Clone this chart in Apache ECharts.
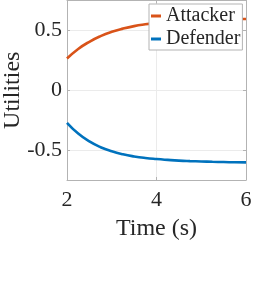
<!DOCTYPE html>
<html>
<head>
<meta charset="utf-8">
<script src="https://cdn.jsdelivr.net/npm/echarts@6/dist/echarts.min.js"></script>
<style>html,body{margin:0;padding:0;background:#fff}#c{width:269px;height:285px}</style>
</head>
<body>
<div id="c"></div>
<script>
const times = [2, 2.25, 2.5, 2.75, 3, 3.25, 3.5, 3.75, 4, 4.25, 4.5, 4.75, 5, 5.25, 5.5, 5.75, 6];
const attacker = [0.265, 0.345, 0.405, 0.452, 0.488, 0.515, 0.536, 0.551, 0.563, 0.572, 0.579, 0.584, 0.588, 0.591, 0.593, 0.595, 0.596];
const defender = [-0.272, -0.362, -0.428, -0.476, -0.510, -0.535, -0.553, -0.566, -0.575, -0.582, -0.588, -0.592, -0.595, -0.598, -0.600, -0.602, -0.603];
const xTicks = [2, 4, 6];
const yTicks = [-0.5, 0, 0.5];
const seriesNames = ['Attacker', 'Defender'];
const colors = ['#D95319', '#0072BD'];

const font = 'Liberation Serif, Times New Roman, serif';
const axisColor = '#b3b3b3';
const gridColor = '#ebebeb';
const textColor = '#262626';

const chart = echarts.init(document.getElementById('c'), null, {renderer: 'canvas'});
const mk = (arr) => times.map((t, i) => [t, arr[i]]);
const xBase = {
  type: 'value', min: 2, max: 6, interval: 2,
  axisLine: {show: true, onZero: false, lineStyle: {color: axisColor, width: 1}},
  axisTick: {show: true, inside: true, length: 3, lineStyle: {color: axisColor}},
  splitLine: {show: false}
};
const yBase = {
  type: 'value', min: -0.75, max: 0.75,
  axisLine: {show: true, onZero: false, lineStyle: {color: axisColor, width: 1}},
  axisTick: {show: true, inside: true, length: 3, customValues: yTicks, lineStyle: {color: axisColor}},
  splitLine: {show: false}
};
chart.setOption({
  animation: false,
  textStyle: {fontFamily: font},
  grid: {left: 67, right: 23, top: 0.5, bottom: 105, containLabel: false, outerBoundsMode: 'none'},
  legend: {
    data: seriesNames,
    orient: 'vertical',
    left: 149, top: 4,
    padding: [2, 2, 1, 2],
    itemGap: 3,
    itemWidth: 10, itemHeight: 3,
    icon: 'rect',
    backgroundColor: '#ffffff',
    borderColor: axisColor, borderWidth: 1,
    textStyle: {fontFamily: font, fontSize: 20, color: textColor, lineHeight: 20}
  },
  xAxis: [
    Object.assign({}, xBase, {
      position: 'bottom',
      name: 'Time (s)', nameLocation: 'middle', nameGap: 37, nameMoveOverlap: false,
      nameTextStyle: {fontFamily: font, fontSize: 24, color: textColor},
      axisLabel: {show: true, margin: 9, fontFamily: font, fontSize: 22, color: textColor, customValues: xTicks},
      axisTick: Object.assign({}, xBase.axisTick, {customValues: xTicks}),
      splitLine: {show: true, lineStyle: {color: gridColor, width: 1}}
    }),
    Object.assign({}, xBase, {position: 'top', axisLabel: {show: false}})
  ],
  yAxis: [
    Object.assign({}, yBase, {
      position: 'left',
      name: 'Utilities', nameLocation: 'middle', nameGap: 42, nameRotate: 90, nameMoveOverlap: false,
      nameTextStyle: {fontFamily: font, fontSize: 24, color: textColor},
      axisLabel: {show: true, margin: 5, fontFamily: font, fontSize: 22, color: textColor, customValues: yTicks,
        formatter: (v) => (v === 0 ? '0' : String(v))},
      splitLine: {show: true, lineStyle: {color: gridColor, width: 1}}
    }),
    Object.assign({}, yBase, {position: 'right', axisLabel: {show: false}})
  ],
  series: [
    {name: seriesNames[0], type: 'line', data: mk(attacker), smooth: true, showSymbol: false,
      lineStyle: {color: colors[0], width: 2.6}, itemStyle: {color: colors[0]}, z: 2},
    {name: seriesNames[1], type: 'line', data: mk(defender), smooth: true, showSymbol: false,
      lineStyle: {color: colors[1], width: 2.6}, itemStyle: {color: colors[1]}, z: 2}
  ]
});
</script>
</body>
</html>
